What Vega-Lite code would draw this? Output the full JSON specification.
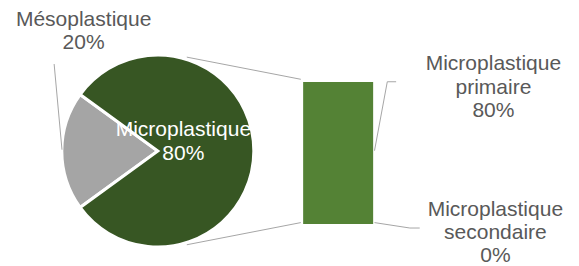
{
  "$schema": "https://vega.github.io/schema/vega-lite/v6.json",
  "width": 579,
  "height": 266,
  "autosize": {"type": "fit", "contains": "padding"},
  "padding": 0,
  "background": "white",
  "config": {
    "view": {"stroke": null},
    "axis": {"disable": true},
    "legend": {"disable": true}
  },
  "datasets": {
    "camembert": [
      {"categorie": "Mésoplastique", "part": 0.2},
      {"categorie": "Microplastique", "part": 0.8}
    ],
    "barre": [
      {"categorie": "Microplastique primaire", "part": 0.8},
      {"categorie": "Microplastique secondaire", "part": 0}
    ],
    "trait": [{}]
  },
  "resolve": {"scale": {"y": "independent"}},
  "layer": [
    {
      "layer": [
        {
          "data": {"name": "camembert"},
          "mark": {"type": "arc", "outerRadius": 96, "stroke": "white", "strokeWidth": 3},
          "encoding": {
            "theta": {"field": "part", "type": "quantitative", "stack": true, "scale": {"domain": [0, 1], "range": [4.0841, 10.3673]}},
            "color": {"field": "categorie", "type": "nominal", "scale": {"domain": ["Mésoplastique", "Microplastique"], "range": ["#A5A5A5", "#375623"]}},
            "order": {"field": "part", "sort": "ascending"},
            "x": {"datum": 155.5, "type": "quantitative", "scale": {"domain": [0, 579]}},
            "y": {"datum": 153.3, "type": "quantitative", "scale": {"domain": [0, 266], "reverse": true}}
          }
        },
        {
          "data": {"name": "trait"},
          "mark": {"type": "rule", "color": "#A6A6A6", "strokeWidth": 1},
          "encoding": {
            "x": {"datum": 50, "type": "quantitative", "scale": {"domain": [0, 579]}},
            "y": {"datum": 65, "type": "quantitative", "scale": {"domain": [0, 266], "reverse": true}},
            "x2": {"datum": 58}, "y2": {"datum": 152}
          }
        },
        {
          "data": {"name": "trait"},
          "mark": {"type": "rule", "color": "#A6A6A6", "strokeWidth": 1},
          "encoding": {
            "x": {"datum": 185, "type": "quantitative", "scale": {"domain": [0, 579]}},
            "y": {"datum": 58, "type": "quantitative", "scale": {"domain": [0, 266], "reverse": true}},
            "x2": {"datum": 301}, "y2": {"datum": 80.5}
          }
        },
        {
          "data": {"name": "trait"},
          "mark": {"type": "rule", "color": "#A6A6A6", "strokeWidth": 1},
          "encoding": {
            "x": {"datum": 185, "type": "quantitative", "scale": {"domain": [0, 579]}},
            "y": {"datum": 248.5, "type": "quantitative", "scale": {"domain": [0, 266], "reverse": true}},
            "x2": {"datum": 301}, "y2": {"datum": 226}
          }
        },
        {
          "data": {"name": "trait"},
          "mark": {"type": "rule", "color": "#A6A6A6", "strokeWidth": 1},
          "encoding": {
            "x": {"datum": 376, "type": "quantitative", "scale": {"domain": [0, 579]}},
            "y": {"datum": 153, "type": "quantitative", "scale": {"domain": [0, 266], "reverse": true}},
            "x2": {"datum": 389}, "y2": {"datum": 83}
          }
        },
        {
          "data": {"name": "trait"},
          "mark": {"type": "rule", "color": "#A6A6A6", "strokeWidth": 1},
          "encoding": {
            "x": {"datum": 389, "type": "quantitative", "scale": {"domain": [0, 579]}},
            "y": {"datum": 83, "type": "quantitative", "scale": {"domain": [0, 266], "reverse": true}},
            "x2": {"datum": 398}, "y2": {"datum": 83}
          }
        },
        {
          "data": {"name": "trait"},
          "mark": {"type": "rule", "color": "#A6A6A6", "strokeWidth": 1},
          "encoding": {
            "x": {"datum": 376, "type": "quantitative", "scale": {"domain": [0, 579]}},
            "y": {"datum": 226, "type": "quantitative", "scale": {"domain": [0, 266], "reverse": true}},
            "x2": {"datum": 412}, "y2": {"datum": 231.5}
          }
        },
        {
          "data": {"name": "trait"},
          "mark": {"type": "rule", "color": "#A6A6A6", "strokeWidth": 1},
          "encoding": {
            "x": {"datum": 412, "type": "quantitative", "scale": {"domain": [0, 579]}},
            "y": {"datum": 231.5, "type": "quantitative", "scale": {"domain": [0, 266], "reverse": true}},
            "x2": {"datum": 422}, "y2": {"datum": 231.5}
          }
        },
        {
          "data": {"name": "camembert"},
          "transform": [{"filter": {"field": "categorie", "equal": "Mésoplastique"}}],
          "mark": {"type": "text", "align": "center", "baseline": "alphabetic", "font": "Liberation Sans", "fontSize": 21, "color": "#595959"},
          "encoding": {
            "text": {"field": "categorie", "type": "nominal"},
            "x": {"datum": 80, "type": "quantitative", "scale": {"domain": [0, 579]}},
            "y": {"datum": 26, "type": "quantitative", "scale": {"domain": [0, 266], "reverse": true}}
          }
        },
        {
          "data": {"name": "camembert"},
          "transform": [{"filter": {"field": "categorie", "equal": "Mésoplastique"}}],
          "mark": {"type": "text", "align": "center", "baseline": "alphabetic", "font": "Liberation Sans", "fontSize": 21, "color": "#595959"},
          "encoding": {
            "text": {"field": "part", "type": "quantitative", "format": ".0%"},
            "x": {"datum": 80, "type": "quantitative", "scale": {"domain": [0, 579]}},
            "y": {"datum": 50, "type": "quantitative", "scale": {"domain": [0, 266], "reverse": true}}
          }
        },
        {
          "data": {"name": "camembert"},
          "transform": [{"filter": {"field": "categorie", "equal": "Microplastique"}}],
          "mark": {"type": "text", "align": "center", "baseline": "alphabetic", "font": "Liberation Sans", "fontSize": 21, "color": "#FFFFFF"},
          "encoding": {
            "text": {"field": "categorie", "type": "nominal"},
            "x": {"datum": 181.5, "type": "quantitative", "scale": {"domain": [0, 579]}},
            "y": {"datum": 138.5, "type": "quantitative", "scale": {"domain": [0, 266], "reverse": true}}
          }
        },
        {
          "data": {"name": "camembert"},
          "transform": [{"filter": {"field": "categorie", "equal": "Microplastique"}}],
          "mark": {"type": "text", "align": "center", "baseline": "alphabetic", "font": "Liberation Sans", "fontSize": 21, "color": "#FFFFFF"},
          "encoding": {
            "text": {"field": "part", "type": "quantitative", "format": ".0%"},
            "x": {"datum": 181.5, "type": "quantitative", "scale": {"domain": [0, 579]}},
            "y": {"datum": 162.5, "type": "quantitative", "scale": {"domain": [0, 266], "reverse": true}}
          }
        },
        {
          "data": {"name": "barre"},
          "transform": [{"filter": {"field": "categorie", "equal": "Microplastique primaire"}}],
          "mark": {"type": "text", "align": "center", "baseline": "alphabetic", "font": "Liberation Sans", "fontSize": 21, "color": "#595959", "lineBreak": " ", "lineHeight": 23.5},
          "encoding": {
            "text": {"field": "categorie", "type": "nominal"},
            "x": {"datum": 497, "type": "quantitative", "scale": {"domain": [0, 579]}},
            "y": {"datum": 71.5, "type": "quantitative", "scale": {"domain": [0, 266], "reverse": true}}
          }
        },
        {
          "data": {"name": "barre"},
          "transform": [{"filter": {"field": "categorie", "equal": "Microplastique primaire"}}],
          "mark": {"type": "text", "align": "center", "baseline": "alphabetic", "font": "Liberation Sans", "fontSize": 21, "color": "#595959"},
          "encoding": {
            "text": {"field": "part", "type": "quantitative", "format": ".0%"},
            "x": {"datum": 497, "type": "quantitative", "scale": {"domain": [0, 579]}},
            "y": {"datum": 118.5, "type": "quantitative", "scale": {"domain": [0, 266], "reverse": true}}
          }
        },
        {
          "data": {"name": "barre"},
          "transform": [{"filter": {"field": "categorie", "equal": "Microplastique secondaire"}}],
          "mark": {"type": "text", "align": "center", "baseline": "alphabetic", "font": "Liberation Sans", "fontSize": 21, "color": "#595959", "lineBreak": " ", "lineHeight": 23.5},
          "encoding": {
            "text": {"field": "categorie", "type": "nominal"},
            "x": {"datum": 499, "type": "quantitative", "scale": {"domain": [0, 579]}},
            "y": {"datum": 219, "type": "quantitative", "scale": {"domain": [0, 266], "reverse": true}}
          }
        },
        {
          "data": {"name": "barre"},
          "transform": [{"filter": {"field": "categorie", "equal": "Microplastique secondaire"}}],
          "mark": {"type": "text", "align": "center", "baseline": "alphabetic", "font": "Liberation Sans", "fontSize": 21, "color": "#595959"},
          "encoding": {
            "text": {"field": "part", "type": "quantitative", "format": ".0%"},
            "x": {"datum": 499, "type": "quantitative", "scale": {"domain": [0, 579]}},
            "y": {"datum": 266, "type": "quantitative", "scale": {"domain": [0, 266], "reverse": true}}
          }
        }
      ]
    },
    {
      "data": {"name": "barre"},
      "mark": {"type": "bar", "orient": "vertical", "width": 70, "color": "#548235"},
      "encoding": {
        "x": {"datum": 339, "type": "quantitative", "scale": {"domain": [0, 579]}},
        "y": {"field": "part", "type": "quantitative", "stack": "zero", "scale": {"domain": [0, 0.8], "range": [224, 82]}},
        "detail": {"field": "categorie", "type": "nominal"},
        "order": {"field": "part", "sort": "ascending"}
      }
    }
  ]
}
